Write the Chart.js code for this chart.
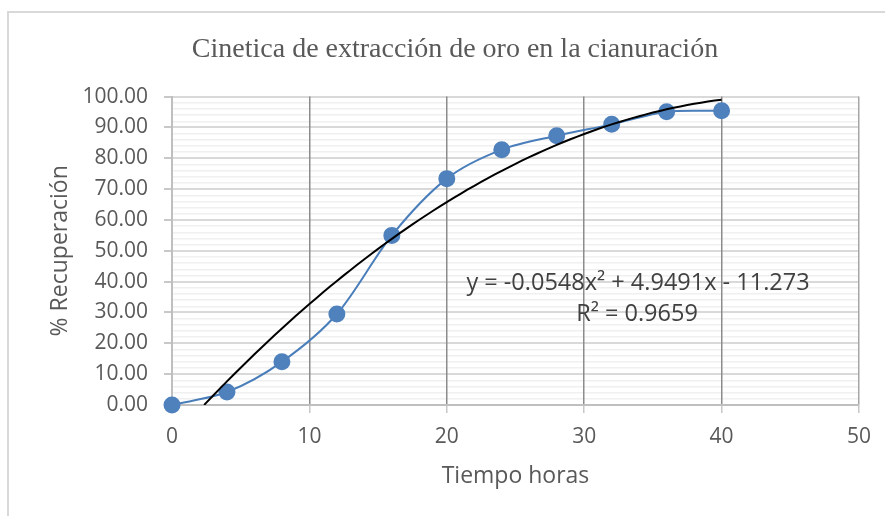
<!DOCTYPE html>
<html>
<head>
<meta charset="utf-8">
<script src="https://cdn.jsdelivr.net/npm/chart.js@4.4.0/dist/chart.umd.min.js"></script>
<style>
  body { margin: 0; background: #fff; }
  #frame { position: absolute; left: 7px; top: 11px; width: 1000px; height: 600px;
           border-left: 2px solid #d9d9d9; border-top: 2px solid #d9d9d9; }
  #wrap { position: absolute; left: 0; top: 0; width: 885px; height: 516px; }
</style>
</head>
<body>
<div id="frame"></div>
<div id="wrap"><canvas id="grafico" width="885" height="516"></canvas></div>
<script>
// datos
let tiempo = [0, 4, 8, 12, 16, 20, 24, 28, 32, 36, 40]
let recuperacion = [0, 4.2, 14.0, 29.5, 55.0, 73.4, 82.8, 87.3, 91.0, 95.1, 95.4]
let coefTendencia = [-0.0548, 4.9491, -11.273]   // a x^2 + b x + c
let ticksX = [0, 10, 20, 30, 40, 50]
let ticksY = [0, 10, 20, 30, 40, 50, 60, 70, 80, 90, 100]
let ecuacion = "y = -0.0548x\u00b2 + 4.9491x - 11.273"
let r2 = "R\u00b2 = 0.9659"

const curva = (x) => coefTendencia[0]*x*x + coefTendencia[1]*x + coefTendencia[2]

// la linea de tendencia empieza donde cruza el 0
let a = coefTendencia[0], b = coefTendencia[1], c = coefTendencia[2]
let x0 = (-b + Math.sqrt(b*b - 4*a*c)) / (2*a)
let tendencia = [{x: x0, y: 0}]
for (let x = Math.ceil(x0*2)/2; x <= 40; x += 0.5) {
    tendencia.push({x: x, y: curva(x)})
}

let puntos = []
for (let i = 0; i < tiempo.length; i++) {
    puntos.push({x: tiempo[i], y: recuperacion[i]})
}

const textoEcuacion = {
    id: "textoEcuacion",
    afterDatasetsDraw(chart) {
        let ctx = chart.ctx
        ctx.save()
        ctx.font = "23.5px 'Open Sans'"
        ctx.fillStyle = "#404040"
        ctx.textAlign = "center"
        ctx.textBaseline = "middle"
        ctx.fillText(ecuacion, 638, 283)
        ctx.fillText(r2, 637, 314)
        ctx.restore()
    }
}

const config = {
    type: "scatter",
    data: {
        datasets: [
            {
                label: "Tendencia",
                data: tendencia,
                showLine: true,
                borderColor: "#000000",
                borderWidth: 2,
                pointRadius: 0,
                tension: 0
            },
            {
                label: "Recuperación",
                data: puntos,
                showLine: true,
                clip: false,
                borderColor: "#4a7ebb",
                borderWidth: 2,
                backgroundColor: "#4f81bd",
                pointBackgroundColor: "#4f81bd",
                pointBorderColor: "#4f81bd",
                pointRadius: 7.5,
                tension: 0.3
            }
        ]
    },
    options: {
        responsive: false,
        animation: false,
        layout: { padding: { top: 0, left: 51, right: 26, bottom: 10 } },
        plugins: {
            legend: { display: false },
            tooltip: { enabled: false },
            title: {
                display: true,
                text: "Cinetica de extracción de oro en la cianuración",
                color: "#595959",
                font: { family: "'Liberation Serif'", size: 28, weight: "normal" },
                padding: { top: 33, bottom: 30 }
            }
        },
        scales: {
            x: {
                type: "linear",
                min: 0, max: 50,
                afterFit: (s) => { s.height = 101 },
                afterBuildTicks: (s) => { s.ticks = ticksX.map(v => ({value: v})) },
                ticks: {
                    color: "#595959",
                    font: { family: "'Open Sans'", size: 21 },
                    padding: 11
                },
                grid: {
                    z: 0,
                    color: (ctx) => ctx.tick.value === 0 ? "rgba(0,0,0,0)" : (ctx.tick.value === 50 ? "#a6a6a6" : "#8c8c8c"),
                    lineWidth: 1.5,
                    tickColor: "#c8c8c8",
                    tickLength: 8
                },
                border: { color: "#bfbfbf", width: 2 },
                title: {
                    display: true,
                    text: "Tiempo horas",
                    color: "#595959",
                    font: { family: "'Open Sans'", size: 23 },
                    padding: { top: 0, bottom: 16 }
                }
            },
            y: {
                type: "linear",
                min: 0, max: 100,
                afterFit: (s) => { s.width = 121 },
                ticks: {
                    stepSize: 2,
                    autoSkip: false,
                    color: "#595959",
                    font: { family: "'Open Sans'", size: 21 },
                    padding: 16,
                    callback: (v) => ticksY.includes(v) ? v.toFixed(2) : ""
                },
                grid: {
                    color: (ctx) => ctx.tick.value === 0 ? "rgba(0,0,0,0)" : (ctx.tick.value % 10 === 0 ? "#d9d9d9" : "#f0f0f0"),
                    lineWidth: (ctx) => ctx.tick.value % 10 === 0 ? 2 : 1.5,
                    tickColor: (ctx) => ctx.tick.value % 10 === 0 ? "#c8c8c8" : "rgba(0,0,0,0)",
                    tickLength: 8
                },
                border: { color: "#bfbfbf", width: 2 },
                title: {
                    display: true,
                    text: "% Recuperación",
                    color: "#595959",
                    font: { family: "'Open Sans'", size: 23 },
                    padding: { top: -4.8, bottom: 0 }
                }
            }
        }
    },
    plugins: [textoEcuacion]
}

const grafico = new Chart(document.getElementById("grafico").getContext("2d"), config)
</script>
</body>
</html>
